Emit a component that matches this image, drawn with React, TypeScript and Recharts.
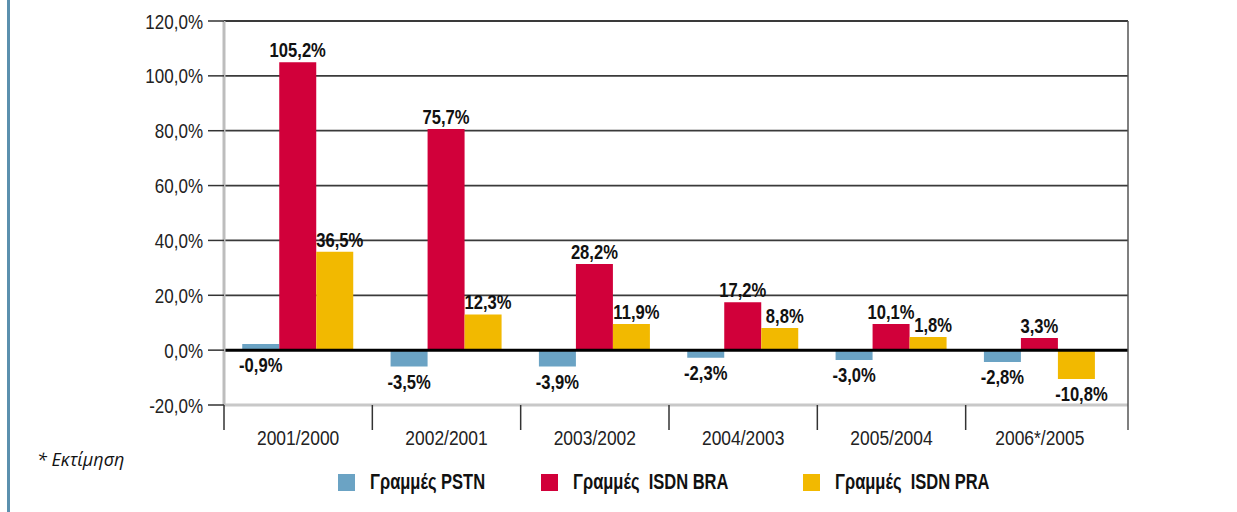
import React from "react";
import {
  BarChart,
  Bar,
  XAxis,
  YAxis,
  CartesianGrid,
  ReferenceLine,
  LabelList,
} from "recharts";

// Year-over-year change per line type (bar heights)
const categories = ["2001/2000", "2002/2001", "2003/2002", "2004/2003", "2005/2004", "2006*/2005"];
const pstnValues = [2.2, -6.0, -6.0, -2.8, -3.6, -4.3];
const braValues = [105.0, 80.6, 31.4, 17.5, 9.5, 4.4];
const praValues = [35.9, 13.0, 9.5, 8.1, 4.8, -10.5];

// Printed labels (as they appear on the chart)
const pstnLabels = ["-0,9%", "-3,5%", "-3,9%", "-2,3%", "-3,0%", "-2,8%"];
const braLabels = ["105,2%", "75,7%", "28,2%", "17,2%", "10,1%", "3,3%"];
const praLabels = ["36,5%", "12,3%", "11,9%", "8,8%", "1,8%", "-10,8%"];

const yTicks = [-20, 0, 20, 40, 60, 80, 100, 120];

const seriesNames = ["Γραμμές PSTN", "Γραμμές  ISDN BRA", "Γραμμές  ISDN PRA"];
const COLORS = ["#6ba3c4", "#d1003a", "#f2b900"];

const FONT = "'Liberation Sans', Arial, sans-serif";
const SQUEEZE = 0.83; // fake a condensed face
const PAD_RIGHT = 14;

const data = categories.map((name, i) => ({
  name,
  pstn: pstnValues[i],
  bra: braValues[i],
  pra: praValues[i],
}));

const formatY = (v: number) => `${v.toFixed(1).replace(".", ",")}%`;

const narrow = (origin: string, k = SQUEEZE): React.CSSProperties => ({
  transform: `scaleX(${k})`,
  transformBox: "fill-box",
  transformOrigin: origin,
});

const YTick = (props: any) => {
  const { x, y, payload } = props;
  return (
    <text
      x={x}
      y={y}
      dy="0.36em"
      textAnchor="end"
      fill="#222"
      fontSize={21}
      fontFamily={FONT}
      style={narrow("right center", 0.81)}
    >
      {formatY(payload.value)}
    </text>
  );
};

// Category tick: separator lines at the band edges plus the label in the middle
const CategoryTick = (props: any) => {
  const { x, y, payload, index } = props;
  const half = payload && payload.offset ? payload.offset : 74;
  const last = index === categories.length - 1;
  return (
    <g>
      <line x1={x - half} x2={x - half} y1={y} y2={y + 25} stroke="#333" strokeWidth={1.5} />
      {last && (
        <line
          x1={x + half + PAD_RIGHT}
          x2={x + half + PAD_RIGHT}
          y1={y}
          y2={y + 25}
          stroke="#555"
          strokeWidth={1.5}
        />
      )}
      <text
        x={x}
        y={y + 40}
        textAnchor="middle"
        fill="#222"
        fontSize={21}
        fontFamily={FONT}
        style={narrow("center")}
      >
        {payload.value}
      </text>
    </g>
  );
};

const makeLabel = (labels: string[], dx: number) => (props: any) => {
  const x = Number(props.x);
  const y = Number(props.y);
  const width = Number(props.width);
  const height = Number(props.height);
  const text = labels[props.index];
  const top = Math.min(y, y + height);
  const bottom = Math.max(y, y + height);
  const neg = text.startsWith("-");
  return (
    <text
      x={x + width / 2 + dx}
      y={neg ? bottom + 22 : top - 5}
      textAnchor="middle"
      fill="#111"
      fontSize={20}
      fontWeight="bold"
      fontFamily={FONT}
      style={narrow("center")}
    >
      {text}
    </text>
  );
};

export default function App() {
  return (
    <div style={{ position: "absolute", left: 0, top: 0, width: 1237, height: 512, background: "#fff" }}>
      <div style={{ position: "absolute", left: 7, top: 0, width: 2.5, height: 512, background: "#5b90ae" }} />
      <div
        style={{
          position: "absolute",
          left: 37,
          top: 447,
          fontFamily: "'Open Sans', 'Noto Sans', sans-serif",
          fontStyle: "italic",
          fontSize: 18,
          color: "#111",
          whiteSpace: "pre",
        }}
      >
        * Εκτίμηση
      </div>
      <BarChart
        width={1237}
        height={512}
        data={data}
        margin={{ top: 21, right: 108, bottom: 77, left: 0 }}
        barCategoryGap="12.3%"
        barGap={0}
        style={{ position: "absolute", left: 0, top: 0 }}
      >
        <CartesianGrid vertical={false} stroke="#3a3a3a" strokeWidth={1.8} />
        <XAxis
          dataKey="name"
          height={30}
          padding={{ left: 0, right: PAD_RIGHT }}
          axisLine={{ stroke: "#c8c8c8", strokeWidth: 3 }}
          tickLine={false}
          tickSize={0}
          tickMargin={0}
          interval={0}
          tick={<CategoryTick />}
        />
        <YAxis
          width={224}
          domain={[-20, 120]}
          ticks={yTicks}
          axisLine={{ stroke: "#bdbdbd", strokeWidth: 3 }}
          tickLine={{ stroke: "#333", strokeWidth: 1.5 }}
          tickSize={16}
          tickMargin={5}
          tick={<YTick />}
        />
        <YAxis
          yAxisId="r"
          orientation="right"
          width={1}
          domain={[-20, 120]}
          tick={false}
          tickLine={false}
          axisLine={{ stroke: "#555", strokeWidth: 1.5 }}
        />
        <Bar dataKey="pstn" fill={COLORS[0]} isAnimationActive={false}>
          <LabelList dataKey="pstn" content={makeLabel(pstnLabels, 0)} />
        </Bar>
        <Bar dataKey="bra" fill={COLORS[1]} isAnimationActive={false}>
          <LabelList dataKey="bra" content={makeLabel(braLabels, 0)} />
        </Bar>
        <Bar dataKey="pra" fill={COLORS[2]} isAnimationActive={false}>
          <LabelList dataKey="pra" content={makeLabel(praLabels, 5)} />
        </Bar>
        <ReferenceLine y={0} stroke="#000" strokeWidth={3} />
      </BarChart>
      <div style={{ position: "absolute", left: 338, top: 469, display: "flex", alignItems: "center", fontFamily: FONT }}>
        {seriesNames.map((name, i) => (
          <div key={name} style={{ display: "flex", alignItems: "center", width: i === 0 ? 203 : 262 }}>
            <span style={{ width: 17, height: 17, background: COLORS[i], display: "inline-block", marginRight: 15, flex: "none" }} />
            <span
              style={{
                fontSize: 22,
                fontWeight: "bold",
                color: "#111",
                whiteSpace: "pre",
                display: "inline-block",
                transform: "scaleX(0.75)",
                transformOrigin: "left center",
              }}
            >
              {name}
            </span>
          </div>
        ))}
      </div>
    </div>
  );
}
